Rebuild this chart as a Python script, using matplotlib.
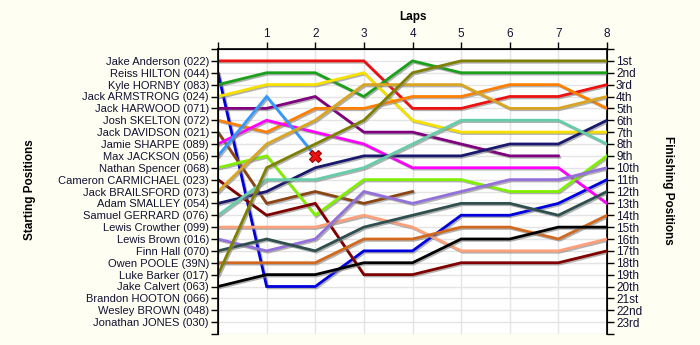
import matplotlib.pyplot as plt
import matplotlib.patheffects as pe

# Drivers in starting order
drivers = [
    "Jake Anderson (022)", "Reiss HILTON (044)", "Kyle HORNBY (083)",
    "Jack ARMSTRONG (024)", "Jack HARWOOD (071)", "Josh SKELTON (072)",
    "Jack DAVIDSON (021)", "Jamie SHARPE (089)", "Max JACKSON (056)",
    "Nathan Spencer (068)", "Cameron CARMICHAEL (023)", "Jack BRAILSFORD (073)",
    "Adam SMALLEY (054)", "Samuel GERRARD (076)", "Lewis Crowther (099)",
    "Lewis Brown (016)", "Finn Hall (070)", "Owen POOLE (39N)",
    "Luke Barker (017)", "Jake Calvert (063)", "Brandon HOOTON (066)",
    "Wesley BROWN (048)", "Jonathan JONES (030)",
]

finish_labels = ["1st", "2nd", "3rd", "4th", "5th", "6th", "7th", "8th", "9th",
                 "10th", "11th", "12th", "13th", "14th", "15th", "16th", "17th",
                 "18th", "19th", "20th", "21st", "22nd", "23rd"]

# Position at the end of each lap (index 0 = grid)
pos_anderson   = [1, 1, 1, 1, 5, 5, 4, 4, 3]
pos_hilton     = [2, 20, 20, 17, 17, 14, 14, 13, 11]
pos_hornby     = [3, 2, 2, 4, 1, 2, 2, 2, 2]
pos_armstrong  = [4, 3, 3, 2, 6, 7, 7, 7, 7]
pos_harwood    = [5, 5, 4, 7, 7, 8, 9, 9]
pos_skelton    = [6, 7, 5, 5, 4, 4, 3, 3, 5]
pos_davidson   = [7, 13, 12, 13, 12]
pos_sharpe     = [8, 6, 7, 8, 10, 10, 10, 10, 13]
pos_jackson    = [9, 4, 9]
pos_spencer    = [10, 9, 14, 11, 11, 11, 12, 12, 9]
pos_carmichael = [11, 14, 13, 19, 19, 18, 18, 18, 17]
pos_brailsford = [12, 8, 6, 3, 3, 3, 5, 5, 4]
pos_smalley    = [13, 12, 10, 9, 9, 9, 8, 8, 6]
pos_gerrard    = [14, 11, 11, 10, 8, 6, 6, 6, 8]
pos_crowther   = [15, 15, 15, 14, 15, 17, 17, 17, 16]
pos_brown      = [16, 17, 16, 12, 13, 12, 11, 11, 10]
pos_hall       = [17, 16, 17, 15, 14, 13, 13, 14, 12]
pos_poole      = [18, 18, 18, 16, 16, 15, 15, 16, 14]
pos_barker     = [19, 10, 8, 6, 2, 1, 1, 1, 1]
pos_calvert    = [20, 19, 19, 18, 18, 16, 16, 15, 15]

# crash marker (lap, position)
crash_lap, crash_pos = 2, 9

series = [
    (pos_anderson, "#EE1111"), (pos_hilton, "#0000DD"), (pos_hornby, "#1AA01A"),
    (pos_armstrong, "#F5E000"), (pos_harwood, "#800080"), (pos_skelton, "#FF8000"),
    (pos_davidson, "#8B4513"), (pos_sharpe, "#FF00FF"), (pos_jackson, "#3399FF"),
    (pos_spencer, "#80F000"), (pos_carmichael, "#800000"), (pos_brailsford, "#DAA520"),
    (pos_smalley, "#191970"), (pos_gerrard, "#66CDAA"), (pos_crowther, "#FFA07A"),
    (pos_brown, "#9370DB"), (pos_hall, "#2F4F4F"), (pos_poole, "#D2691E"),
    (pos_barker, "#808000"), (pos_calvert, "#000000"),
]

bg = "#FFFEF2"
txt = "#111133"
plt.rcParams['font.family'] = ['Liberation Sans', 'DejaVu Sans']

fig = plt.figure(figsize=(7, 3.45), dpi=100, facecolor=bg)
ax = fig.add_axes([218 / 700, 1 - 334 / 345, (607 - 218) / 700, (334 - 49) / 345])
ax.set_facecolor("white")

shadow = [pe.SimpleLineShadow(offset=(1, -1), shadow_color="gray", alpha=0.6), pe.Normal()]
for vals, col in series:
    ax.plot(range(len(vals)), vals, color=col, lw=2.0, solid_joinstyle="miter",
            path_effects=shadow, zorder=3)

ax.plot(crash_lap, crash_pos, marker="X", ms=9, color="#EE1111",
        markeredgecolor="#990000", markeredgewidth=0.8, zorder=5)

ax.set_xlim(0, 8)
ax.set_ylim(24, 0)
ax.set_xticks(range(9))
ax.set_xticklabels([""] + [str(i) for i in range(1, 9)], fontsize=8.5, color=txt)
ax.xaxis.tick_top()
ax.set_yticks(range(25))
ax.set_yticklabels([""] + drivers + [""], fontsize=8, color=txt)
ax.tick_params(axis="both", length=5, width=1, color="black", pad=1.5)
ax.grid(True, color="#E4E4E4", lw=1, zorder=0)
ax.set_axisbelow(True)

ax.spines["bottom"].set_visible(False)
for s in ["top", "left", "right"]:
    ax.spines[s].set_linewidth(1.2)

ax2 = ax.twinx()
ax2.set_ylim(24, 0)
ax2.set_yticks(range(25))
ax2.set_yticklabels([""] + finish_labels + [""], fontsize=8.5, color=txt)
ax2.tick_params(axis="y", length=5, width=1, color="black", pad=1.5)
ax2.spines["bottom"].set_visible(False)

fig.text(413 / 700, 1 - 17 / 345, "Laps", ha="center", va="center",
         fontsize=8.5, fontweight="bold", color="black")
fig.text(30 / 700, 1 - 190 / 345, "Starting Positions", ha="center", va="center",
         rotation=90, fontsize=8.5, fontweight="bold", color="black")
fig.text(668 / 700, 1 - 190 / 345, "Finishing Positions", ha="center", va="center",
         rotation=270, fontsize=8.5, fontweight="bold", color="black")

fig.savefig("out.png", dpi=100, facecolor=bg)
